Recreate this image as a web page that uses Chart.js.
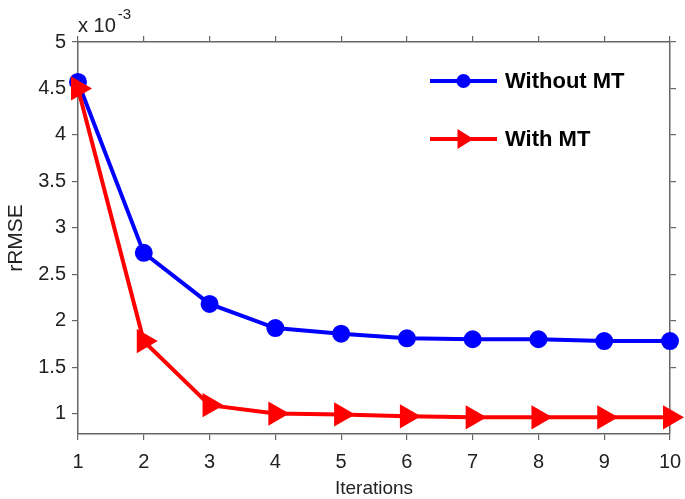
<!DOCTYPE html>
<html>
<head>
<meta charset="utf-8">
<script src="https://cdn.jsdelivr.net/npm/chart.js@4.4.0/dist/chart.umd.min.js"></script>
<style>
  html, body { margin: 0; padding: 0; background: #fff; }
  #wrap { width: 685px; height: 499px; }
</style>
</head>
<body>
<div id="wrap"><canvas id="rmseChart"></canvas></div>
<script>
// rRMSE values, in units of 1e-3
const iterations = [1, 2, 3, 4, 5, 6, 7, 8, 9, 10];
const withoutMT = [4.57, 2.73, 2.18, 1.92, 1.86, 1.81, 1.80, 1.80, 1.78, 1.78];
const withMT = [4.50, 1.78, 1.09, 1.00, 0.99, 0.97, 0.96, 0.96, 0.96, 0.96];
const yTicks = [1, 1.5, 2, 2.5, 3, 3.5, 4, 4.5, 5];
const seriesNames = ['Without MT', 'With MT'];

const axisColor = '#666';
const textColor = '#222';
const fontFam = 'Arial, "Liberation Sans", sans-serif';
const tickFont = { family: fontFam, size: 20 };

function toPoints(vals) {
    return iterations.map((x, i) => ({ x: x, y: vals[i] }));
}

// fixed axis box sizes so the plot area lands where the original one is
function fixSize(pos, w) {
    return a => {
        if (pos === 'top' || pos === 'bottom') a.height = w; else a.width = w;
        a.paddingLeft = 0; a.paddingRight = 0; a.paddingTop = 0; a.paddingBottom = 0;
    };
}

const frameAxis = (pos, w) => ({
    position: pos,
    afterFit: fixSize(pos, w),
    grid: { drawOnChartArea: false, drawTicks: true, tickLength: 6, color: axisColor, lineWidth: 1.2 },
    border: { color: axisColor, width: 1.5 },
    ticks: { display: false }
});

// legend + exponent label drawn on the canvas
const extras = {
    id: 'extras',
    afterDatasetsDraw(chart) {
        const ctx = chart.ctx;
        const area = chart.chartArea;
        ctx.save();
        // exponent
        ctx.fillStyle = textColor;
        ctx.textBaseline = 'alphabetic';
        ctx.font = '20px ' + fontFam;
        ctx.fillText('x 10', area.left, area.top - 10);
        const w = ctx.measureText('x 10').width;
        ctx.font = '15px ' + fontFam;
        ctx.fillText('-3', area.left + w + 2, area.top - 23);

        // legend
        const items = [
            { name: seriesNames[0], color: '#0000ff', y: area.top + 39 },
            { name: seriesNames[1], color: '#ff0000', y: area.top + 97 }
        ];
        const x0 = area.left + 352, x1 = area.left + 419, xm = (x0 + x1) / 2;
        items.forEach((it, i) => {
            ctx.strokeStyle = it.color;
            ctx.fillStyle = it.color;
            ctx.lineWidth = 4;
            ctx.beginPath();
            ctx.moveTo(x0, it.y);
            ctx.lineTo(x1, it.y);
            ctx.stroke();
            ctx.beginPath();
            if (i === 0) {
                ctx.arc(xm, it.y, 7, 0, Math.PI * 2);
            } else {
                ctx.moveTo(xm + 10, it.y);
                ctx.lineTo(xm - 6, it.y - 10);
                ctx.lineTo(xm - 6, it.y + 10);
                ctx.closePath();
            }
            ctx.fill();
            ctx.fillStyle = '#000';
            ctx.font = 'bold 22px ' + fontFam;
            ctx.textBaseline = 'middle';
            ctx.fillText(it.name, x1 + 8, it.y + 1);
        });
        ctx.restore();
    }
};

new Chart(document.getElementById('rmseChart'), {
    type: 'line',
    data: {
        datasets: [{
            label: seriesNames[0],
            data: toPoints(withoutMT),
            borderColor: '#0000ff',
            backgroundColor: '#0000ff',
            borderWidth: 4,
            pointStyle: 'circle',
            pointRadius: 7,
            pointHoverRadius: 7,
            tension: 0,
            clip: false,
            order: 1
        }, {
            label: seriesNames[1],
            data: toPoints(withMT),
            borderColor: '#ff0000',
            backgroundColor: '#ff0000',
            borderWidth: 4,
            pointStyle: 'triangle',
            rotation: 90,
            pointRadius: 10,
            pointHoverRadius: 10,
            tension: 0,
            clip: false,
            order: 0
        }]
    },
    options: {
        responsive: true,
        maintainAspectRatio: false,
        animation: false,
        layout: { padding: 0 },
        plugins: { legend: { display: false }, tooltip: { enabled: false } },
        scales: {
            x: {
                type: 'linear',
                position: 'bottom',
                min: 1,
                max: 10,
                afterFit: fixSize('bottom', 65),
                ticks: { stepSize: 1, color: textColor, font: tickFont, padding: 10 },
                grid: { drawOnChartArea: false, tickLength: 6, color: axisColor, lineWidth: 1.2 },
                border: { color: axisColor, width: 1.5 },
                title: { display: true, text: 'Iterations', color: textColor, font: { family: fontFam, size: 19 }, padding: { top: 0, bottom: -1 } }
            },
            y: {
                type: 'linear',
                position: 'left',
                min: 0.78,
                max: 5,
                afterFit: fixSize('left', 78),
                afterBuildTicks: a => { a.ticks = yTicks.map(v => ({ value: v })); },
                ticks: { color: textColor, font: tickFont, padding: 6, callback: v => String(v) },
                grid: { drawOnChartArea: false, tickLength: 6, color: axisColor, lineWidth: 1.2 },
                border: { color: axisColor, width: 1.5 },
                title: { display: true, text: 'rRMSE', color: textColor, font: { family: fontFam, size: 21 }, padding: { top: 4, bottom: 0 } }
            },
            x2: Object.assign(frameAxis('top', 42), { type: 'linear', min: 1, max: 10, ticks: { display: false, stepSize: 1 } }),
            y2: Object.assign(frameAxis('right', 15), {
                type: 'linear', min: 0.78, max: 5,
                afterBuildTicks: a => { a.ticks = yTicks.map(v => ({ value: v })); }
            })
        }
    },
    plugins: [extras]
});
</script>
</body>
</html>
